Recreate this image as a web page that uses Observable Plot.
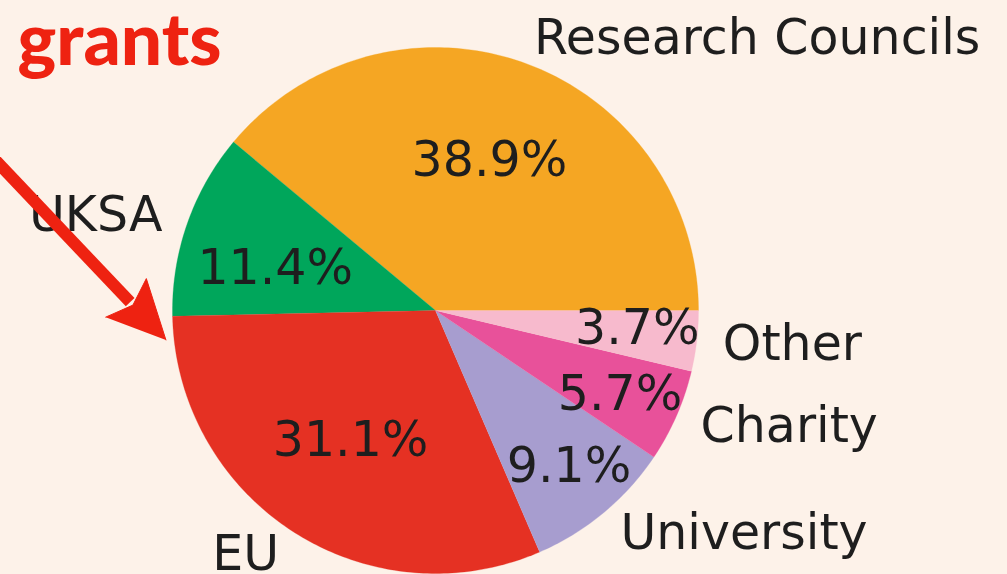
<!DOCTYPE html>
<html>
<head>
<meta charset="utf-8">
<script src="https://cdn.jsdelivr.net/npm/d3@7"></script>
<script src="https://cdn.jsdelivr.net/npm/@observablehq/plot@0.6"></script>
<style>
  html, body { margin: 0; padding: 0; background: #fdf2e9; overflow: hidden; }
  #chart svg { display: block; }
</style>
</head>
<body>
<div id="chart"></div>
<script>
// ---- data ----
const labels = ["Research Councils", "UKSA", "EU", "University", "Charity", "Other"];
const shares = [38.9, 11.4, 31.1, 9.1, 5.7, 3.7];
const pctLabels = ["38.9%", "11.4%", "31.1%", "9.1%", "5.7%", "3.7%"];
const colors = ["#f5a623", "#00a65b", "#e53123", "#a79dcf", "#e8519a", "#f7bacd"];
// where each percentage label sits: angle (degrees, ccw from 3 o'clock) and distance (radius = 1)
const pctAngle = [70.2, 165.3, 236.8, -49.4, -24.3, -5.1];
const pctDist = [0.605, 0.63, 0.59, 0.78, 0.77, 0.77];
const titleText = ["grants"];
// annotation arrow, in pie units (radius = 1): tail and tip
const arrowTail = [-1.70, 0.60];
const arrowTip = [-1.025, -0.112];

// ---- layout ----
const W = 1007, H = 574;
const CX = 435, CY = 310, R = 263;
const bg = "#fdf2e9";
const textColor = "#1e1e1e";
const FS = 49;

// slices (counter-clockwise from 3 o'clock, like matplotlib)
const total = d3.sum(shares);
let acc = 0;
const slices = shares.map((v, i) => {
  const a0 = acc;
  acc += v / total * 2 * Math.PI;
  const a1 = acc;
  return { label: labels[i], pct: pctLabels[i], a0, a1, mid: (a0 + a1) / 2 };
});

const wedgePts = [];
for (const s of slices) {
  wedgePts.push({ label: s.label, x: 0, y: 0 });
  const n = Math.max(4, Math.ceil((s.a1 - s.a0) / (2 * Math.PI) * 400));
  for (let k = 0; k <= n; k++) {
    const a = s.a0 + (s.a1 - s.a0) * k / n;
    wedgePts.push({ label: s.label, x: Math.cos(a), y: Math.sin(a) });
  }
}

const outerLabels = slices.map(s => ({
  text: s.label,
  x: 1.1 * Math.cos(s.mid),
  y: 1.1 * Math.sin(s.mid),
  anchor: Math.cos(s.mid) > 0 ? "start" : "end"
}));
const innerLabels = slices.map((s, i) => {
  const a = pctAngle[i] * Math.PI / 180;
  return { text: s.pct, x: pctDist[i] * Math.cos(a), y: pctDist[i] * Math.sin(a) };
});

// arrow geometry (shaft + filled head)
const ux0 = arrowTip[0] - arrowTail[0], uy0 = arrowTip[1] - arrowTail[1];
const ul = Math.hypot(ux0, uy0);
const ux = ux0 / ul, uy = uy0 / ul;
const nx = -uy, ny = ux;
const headL = 58 / R, headW = 28 / R;
const base = [arrowTip[0] - ux * headL, arrowTip[1] - uy * headL];
const shaft = [{ x1: arrowTail[0], y1: arrowTail[1], x2: base[0] + ux * 6 / R, y2: base[1] + uy * 6 / R }];
const head = [
  { x: arrowTip[0], y: arrowTip[1] },
  { x: base[0] + nx * headW, y: base[1] + ny * headW },
  { x: base[0] + ux * 10 / R, y: base[1] + uy * 10 / R },
  { x: base[0] - nx * headW, y: base[1] - ny * headW }
];

const chart = Plot.plot({
  width: W,
  height: H,
  margin: 0,
  style: { background: bg, fontFamily: "DejaVu Sans" },
  x: { domain: [-CX / R, (W - CX) / R], axis: null },
  y: { domain: [-(H - CY) / R, CY / R], axis: null },
  color: { type: "ordinal", domain: labels, range: colors },
  marks: [
    Plot.line(wedgePts, { x: "x", y: "y", z: "label", fill: "label", stroke: "label", strokeWidth: 0.3, curve: "linear" }),
    Plot.text(innerLabels, { x: "x", y: "y", text: "text", fontSize: FS, fill: textColor, textAnchor: "middle", fontFamily: "DejaVu Sans" }),
    Plot.text(outerLabels, { x: "x", y: "y", text: "text", fontSize: FS, fill: textColor, textAnchor: "start", fontFamily: "DejaVu Sans", filter: d => d.anchor === "start" }),
    Plot.text(outerLabels, { x: "x", y: "y", text: "text", fontSize: FS, fill: textColor, textAnchor: "end", fontFamily: "DejaVu Sans", filter: d => d.anchor === "end" }),
    Plot.link(shaft, { x1: "x1", y1: "y1", x2: "x2", y2: "y2", stroke: "#ee2211", strokeWidth: 12 }),
    Plot.line(head, { x: "x", y: "y", fill: "#ee2211", stroke: "#ee2211", strokeWidth: 1 }),
    Plot.text(titleText, { text: d => d, frameAnchor: "top-left", dx: 17, dy: 13, fontSize: 73, fontWeight: 900, fill: "#ee2211", textAnchor: "start", fontFamily: "Lato" })
  ]
});
document.getElementById("chart").appendChild(chart);
</script>
</body>
</html>
